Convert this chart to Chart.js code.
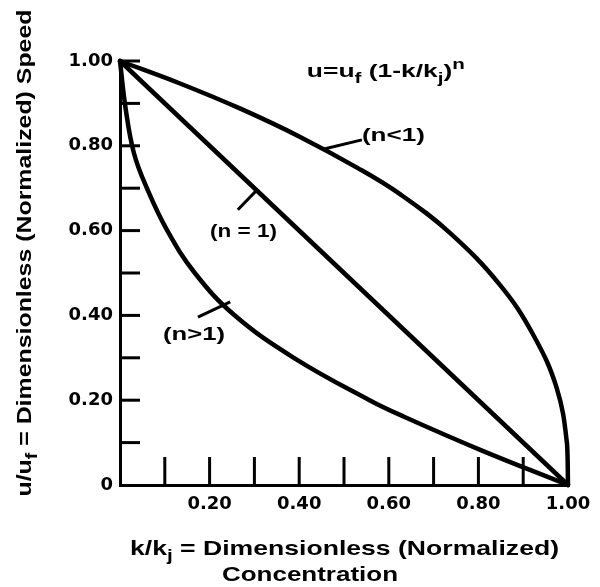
<!DOCTYPE html>
<html>
<head>
<meta charset="utf-8">
<script src="https://cdn.jsdelivr.net/npm/chart.js@4/dist/chart.umd.min.js"></script>
<style>
html,body{margin:0;padding:0;background:#fff}
#wrap{width:600px;height:587px;position:relative}
</style>
</head>
<body>
<div id="wrap"><canvas id="c" width="600" height="587"></canvas></div>
<script>
// ---------- DATA ----------
const seriesNames = ['(n<1)', '(n = 1)', '(n>1)'];

// n < 1 (upper, concave curve)
const kLess = [0, 0.134, 0.27, 0.402, 0.53, 0.625, 0.737, 0.848, 0.922, 0.975, 0.998, 1];
const uLess = [1, 0.947, 0.887, 0.821, 0.748, 0.686, 0.594, 0.472, 0.355, 0.228, 0.095, 0];

// n = 1 (straight line)
const kOne = [0, 1];
const uOne = [1, 0];

// n > 1 (lower, convex curve)
const kMore = [0, 0.012, 0.031, 0.060, 0.105, 0.167, 0.255, 0.388, 0.557, 0.634, 0.804, 1];
const uMore = [1, 0.892, 0.783, 0.700, 0.601, 0.500, 0.401, 0.300, 0.200, 0.161, 0.083, 0];

// tick labels
const xTickValues = [0.2, 0.4, 0.6, 0.8, 1.0];
const xTickLabels = ['0.20', '0.40', '0.60', '0.80', '1.00'];
const yTickValues = [0, 0.2, 0.4, 0.6, 0.8, 1.0];
const yTickLabels = ['0', '0.20', '0.40', '0.60', '0.80', '1.00'];
// inward tick marks
const xMarkValues = [0.1, 0.2, 0.3, 0.4, 0.5, 0.6, 0.7, 0.8, 0.9];
const yMarkValues = [0.1, 0.2, 0.3, 0.4, 0.5, 0.6, 0.7, 0.8, 0.9, 1.0];

// ---------- LAYOUT / STYLE ----------
const toPts = (ks, us) => ks.map((k, i) => ({x: k, y: us[i]}));
const lineStyle = {borderColor: '#000', borderWidth: 4.5, pointRadius: 0, fill: false,
  tension: 0.4, borderCapStyle: 'round', borderJoinStyle: 'round', clip: false};

const TICK_FONT = {family: 'DejaVu Sans', size: 18, weight: 'bold'};
const LABEL_FAMILY = '"Liberation Sans", Arial, sans-serif';

// annotations: text segments, anchor in data units, target width (px)
const annotations = [
  {segs: [{t: '(n<1)'}], k: 0.540, u: 0.811, size: 18, w: 63,
   lead: [[0.453, 0.792], [0.540, 0.814]]},
  {segs: [{t: '(n = 1)'}], k: 0.201, u: 0.585, size: 18, w: 67,
   lead: [[0.306, 0.696], [0.263, 0.649]]},
  {segs: [{t: '(n>1)'}], k: 0.096, u: 0.342, size: 18, w: 62,
   lead: [[0.246, 0.432], [0.174, 0.396]]},
  {segs: [{t: 'u=u'}, {t: 'f', sub: true}, {t: ' (1-k/k'}, {t: 'j', sub: true}, {t: ')'}, {t: 'n', sup: true}],
   k: 0.417, u: 0.962, size: 18, w: 158}
];

function fontStr(size) { return 'bold ' + size + 'px ' + LABEL_FAMILY; }

function measureRich(ctx, segs, size) {
  let w = 0;
  for (const s of segs) {
    const sz = (s.sub || s.sup) ? size * 0.78 : size;
    ctx.font = fontStr(sz);
    w += ctx.measureText(s.t).width;
  }
  return w;
}
// draws rich text with left edge (or centre) at (x, baseline y), scaled to target width
function drawRich(ctx, segs, x, y, size, targetW, align) {
  const total = measureRich(ctx, segs, size);
  const sx = targetW ? targetW / total : 1;
  ctx.save();
  ctx.translate(x, y);
  ctx.scale(sx, 1);
  let cx = align === 'center' ? -total / 2 : 0;
  ctx.fillStyle = '#000';
  ctx.textBaseline = 'alphabetic';
  ctx.textAlign = 'left';
  for (const s of segs) {
    const sz = (s.sub || s.sup) ? size * 0.78 : size;
    ctx.font = fontStr(sz);
    const dy = s.sub ? size * 0.30 : (s.sup ? -size * 0.45 : 0);
    ctx.fillText(s.t, cx, dy);
    cx += ctx.measureText(s.t).width;
  }
  ctx.restore();
}

const xTitle1 = [{t: 'k/k'}, {t: 'j', sub: true}, {t: ' = Dimensionless (Normalized)'}];
const xTitle2 = [{t: 'Concentration'}];
const yTitle = [{t: 'u/u'}, {t: 'f', sub: true}, {t: ' = Dimensionless (Normalized) Speed'}];

const decorPlugin = {
  id: 'decor',
  afterDatasetsDraw(chart) {
    const ctx = chart.ctx;
    const xs = chart.scales.x, ys = chart.scales.y;
    const area = chart.chartArea;
    ctx.save();
    ctx.strokeStyle = '#000';
    ctx.lineCap = 'butt';
    // inward tick marks
    ctx.lineWidth = 3;
    for (const v of yMarkValues) {
      const py = ys.getPixelForValue(v);
      ctx.beginPath(); ctx.moveTo(area.left, py); ctx.lineTo(area.left + 20, py); ctx.stroke();
    }
    for (const v of xMarkValues) {
      const px = xs.getPixelForValue(v);
      ctx.beginPath(); ctx.moveTo(px, area.bottom); ctx.lineTo(px, area.bottom - 28); ctx.stroke();
    }
    // annotations
    ctx.lineWidth = 3;
    for (const a of annotations) {
      if (a.lead) {
        ctx.beginPath();
        ctx.moveTo(xs.getPixelForValue(a.lead[0][0]), ys.getPixelForValue(a.lead[0][1]));
        ctx.lineTo(xs.getPixelForValue(a.lead[1][0]), ys.getPixelForValue(a.lead[1][1]));
        ctx.stroke();
      }
      drawRich(ctx, a.segs, xs.getPixelForValue(a.k), ys.getPixelForValue(a.u), a.size, a.w);
    }
    // axis titles
    drawRich(ctx, xTitle1, 130, 555, 21, 429);
    drawRich(ctx, xTitle2, 222, 581, 21, 176);
    ctx.save();
    ctx.translate(31, 253);
    ctx.rotate(-Math.PI / 2);
    drawRich(ctx, yTitle, 0, 0, 21, 487, 'center');
    ctx.restore();
    ctx.restore();
  }
};

function labelFor(values, labels) {
  return v => {
    for (let i = 0; i < values.length; i++) if (Math.abs(values[i] - v) < 1e-6) return labels[i];
    return '';
  };
}

new Chart(document.getElementById('c'), {
  type: 'line',
  data: {
    datasets: [
      Object.assign({label: seriesNames[0], data: toPts(kLess, uLess)}, lineStyle),
      Object.assign({label: seriesNames[1], data: toPts(kOne, uOne)}, lineStyle),
      Object.assign({label: seriesNames[2], data: toPts(kMore, uMore)}, lineStyle)
    ]
  },
  options: {
    responsive: false,
    animation: false,
    devicePixelRatio: 1,
    layout: {padding: {top: 61, right: 32, left: 0, bottom: 0}},
    plugins: {legend: {display: false}, tooltip: {enabled: false}},
    scales: {
      x: {
        type: 'linear', min: 0, max: 1,
        grid: {display: false, drawTicks: false},
        border: {display: true, color: '#000', width: 3},
        ticks: {stepSize: 0.1, autoSkip: false, maxRotation: 0, padding: 9,
          color: '#000', font: TICK_FONT, callback: labelFor(xTickValues, xTickLabels)},
        afterFit(s) { s.height = 102; }
      },
      y: {
        type: 'linear', min: 0, max: 1,
        grid: {display: false, drawTicks: false},
        border: {display: true, color: '#000', width: 3},
        ticks: {stepSize: 0.1, autoSkip: false, padding: 7,
          color: '#000', font: TICK_FONT, callback: labelFor(yTickValues, yTickLabels)},
        afterFit(s) { s.width = 120; }
      }
    }
  },
  plugins: [decorPlugin]
});
</script>
</body>
</html>
